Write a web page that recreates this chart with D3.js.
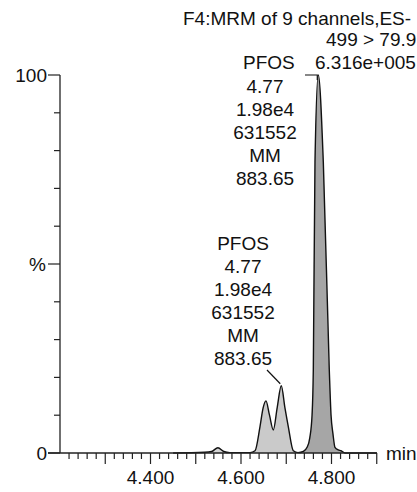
<!DOCTYPE html>
<html><head><meta charset="utf-8">
<script src="https://cdn.jsdelivr.net/npm/d3@7"></script>
<style>body{margin:0;background:#fff}svg{display:block}text{font-family:"Liberation Sans",Arial,sans-serif;fill:#111}</style>
</head><body><svg id="c" width="417" height="492"></svg>
<script>
// retention time (min) and relative intensity (%)
const times = [4.22,4.45,4.52,4.535,4.549,4.562,4.575,4.62,4.631,4.642,4.649,4.6552,4.663,4.6714,4.680,4.689,4.697,4.7045,4.7156,4.726,4.7377,4.746,4.752,4.757,4.7598,4.7635,4.7708,4.7819,4.7951,4.799,4.8033,4.8077,4.815,4.821,4.83,4.90];
const intensity = [0,0,0.2,0.4,1.4,0.4,0.1,0.1,0.6,7,12,13.8,10,6.1,12,17.8,12,7,0.6,0.1,0.4,1.5,4,10,22,77,100,77,22,10,5,1.5,0.8,0.6,0,0];
const xTickLabels = [4.4,4.6,4.8];
const yTickLabels = [{v:0,t:"0"},{v:50,t:"%"},{v:100,t:"100"}];
const headerLines = ["F4:MRM of 9 channels,ES-","499 > 79.9"];
const peakName = "PFOS";
const peakHeight = "6.316e+005";
const peakLabel = ["PFOS","4.77","1.98e4","631552","MM","883.65"];
const lightRange = [4.62,4.726];
const darkRange = [4.7377,4.83];
const smallRange = [4.52,4.575];

const FS = 19;
const svg = d3.select("#c");
const x = d3.scaleLinear().domain([4.4,4.8]).range([150.5,331.5]);
const y = d3.scaleLinear().domain([0,100]).range([453,75]);
const pts = times.map((t,i)=>({t, v:intensity[i]}));
const area = d3.area().x(d=>x(d.t)).y0(y(0)).y1(d=>y(d.v)).curve(d3.curveMonotoneX);
const line = d3.line().x(d=>x(d.t)).y(d=>y(d.v)).curve(d3.curveMonotoneX);
const within = r => pts.filter(d=>d.t>=r[0]&&d.t<=r[1]);
svg.append("path").attr("d",area(within(smallRange))).attr("fill","#d4d4d4");
svg.append("path").attr("d",area(within(lightRange))).attr("fill","#cacaca");
svg.append("path").attr("d",area(within(darkRange))).attr("fill","#a6a6a6");
svg.append("path").attr("d",line(pts.filter(d=>d.t>=4.45))).attr("fill","none").attr("stroke","#111").attr("stroke-width",1.4);

// axes
const ax = 60;
svg.append("line").attr("x1",ax).attr("x2",ax).attr("y1",y(100)).attr("y2",y(0)).attr("stroke","#222").attr("stroke-width",1.3);
svg.append("line").attr("x1",48).attr("x2",377).attr("y1",y(0)).attr("y2",y(0)).attr("stroke","#222").attr("stroke-width",1.3);
d3.range(0,101,10).forEach(v=>{
  const lab = yTickLabels.find(l=>l.v===v);
  svg.append("line").attr("x1",lab?48:54).attr("x2",ax).attr("y1",y(v)).attr("y2",y(v)).attr("stroke","#222").attr("stroke-width",1.2);
});
yTickLabels.forEach(l=>{
  svg.append("text").attr("x",l.v===50?46:47).attr("y",y(l.v)+7).attr("text-anchor","end").attr("font-size",FS).text(l.t);
});
d3.range(0,35).map(i=>4.22+i*0.02).forEach(t=>{
  const major = Math.abs(t*10-Math.round(t*10))<1e-6;
  svg.append("line").attr("x1",x(t)).attr("x2",x(t)).attr("y1",y(0)).attr("y2",y(0)+(major?11:6)).attr("stroke","#222").attr("stroke-width",1.2);
});
xTickLabels.forEach(t=>{
  svg.append("text").attr("x",x(t)).attr("y",484).attr("text-anchor","middle").attr("font-size",FS).text(d3.format(".3f")(t));
});
svg.append("text").attr("x",386).attr("y",460).attr("font-size",FS).text("min");

// header
svg.append("text").attr("x",183).attr("y",25).attr("font-size",FS).text(headerLines[0]);
svg.append("text").attr("x",326).attr("y",46).attr("font-size",FS).text(headerLines[1]);
svg.append("text").attr("x",243).attr("y",69).attr("font-size",FS).text(peakName);
svg.append("text").attr("x",315).attr("y",69).attr("font-size",FS).text(peakHeight);

// upper label stack
peakLabel.slice(1).forEach((s,i)=>{
  svg.append("text").attr("x",265).attr("y",93+i*23).attr("text-anchor","middle").attr("font-size",FS).text(s);
});
svg.append("path").attr("d",`M305,75H${x(4.7708)-1}V80`).attr("fill","none").attr("stroke","#111").attr("stroke-width",1.2);
// lower label stack
peakLabel.forEach((s,i)=>{
  svg.append("text").attr("x",243).attr("y",250+i*23).attr("text-anchor","middle").attr("font-size",FS).text(s);
});
svg.append("path").attr("d",`M267,370L${x(4.689)-1},${y(17.8)-2}`).attr("fill","none").attr("stroke","#111").attr("stroke-width",1.2);
</script></body></html>
